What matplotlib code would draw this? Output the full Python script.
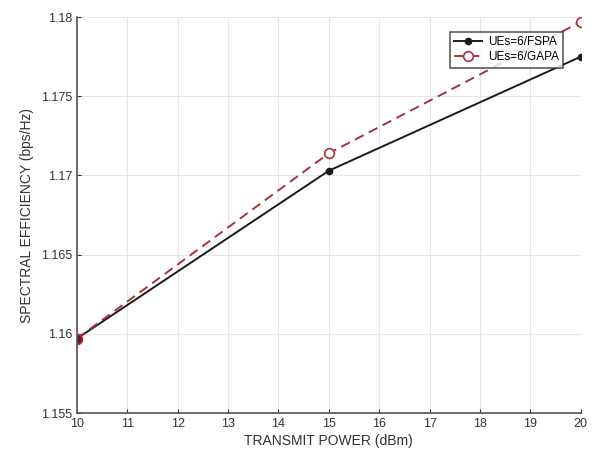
import matplotlib
matplotlib.use("Agg")
import matplotlib.pyplot as plt

# datos
potencia = [10, 15, 20]
se_fspa = [1.1597, 1.1703, 1.1775]
se_gapa = [1.1597, 1.1714, 1.1797]
etiquetas = ["UEs=6/FSPA", "UEs=6/GAPA"]

plt.rcParams["font.family"] = ["Liberation Sans", "DejaVu Sans"]

fig = plt.figure(figsize=(5.92, 4.62), dpi=100)
ax = fig.add_axes([0.130, 0.106, 0.851, 0.857])

ax.plot(potencia, se_fspa, "-", color="#1a1a1a", lw=1.4, marker="o", ms=4.5,
        mfc="#1a1a1a", mec="#1a1a1a", label=etiquetas[0])
ax.plot(potencia, se_gapa, "--", color="#a8323c", lw=1.4, marker="o", ms=7,
        mfc="white", mec="#a8323c", mew=1.2, dashes=(5, 3), label=etiquetas[1])
# en x=10 los dos coinciden y se ve relleno
ax.plot(potencia[:1], se_gapa[:1], "o", ms=7, mfc="#6b1a22", mec="#a8323c")

ax.set_xlim(10, 20)
ax.set_ylim(1.155, 1.18)
ax.set_xticks(range(10, 21))
ax.set_yticks([1.155, 1.16, 1.165, 1.17, 1.175, 1.18])
ax.set_yticklabels(["1.155", "1.16", "1.165", "1.17", "1.175", "1.18"])
ax.grid(True, color="#e6e6e6", lw=0.8)
ax.set_axisbelow(True)
ax.tick_params(labelsize=9, colors="#333333", direction="in", length=3)
for s in ["top", "right"]:
    ax.spines[s].set_visible(False)
for s in ["left", "bottom"]:
    ax.spines[s].set_color("#555555")
    ax.spines[s].set_linewidth(1.2)

ax.set_xlabel("TRANSMIT POWER (dBm)", fontsize=10, color="#333333", labelpad=3)
ax.set_ylabel("SPECTRAL EFFICIENCY (bps/Hz)", fontsize=10, color="#333333", labelpad=5)

leg = ax.legend(loc="upper right", bbox_to_anchor=(0.965, 0.963), fontsize=8.5,
                frameon=True, fancybox=False, edgecolor="#333333",
                borderaxespad=0, handlelength=2.4, borderpad=0.35, labelspacing=0.3,
                handletextpad=0.5)
leg.get_frame().set_linewidth(1.2)

fig.savefig("out.png", dpi=100)
